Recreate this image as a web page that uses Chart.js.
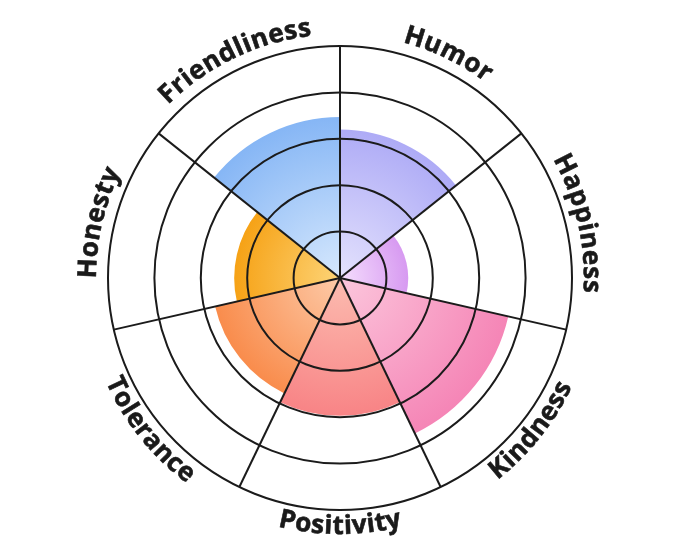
<!DOCTYPE html>
<html>
<head>
<meta charset="utf-8">
<script src="https://cdn.jsdelivr.net/npm/chart.js@4.4.0/dist/chart.umd.min.js"></script>
<style>
  body { margin: 0; background: #fff; }
  canvas { display: block; }
</style>
</head>
<body>
<canvas id="traits" width="680" height="557"></canvas>
<script>
// -------- DATA --------
const traits = ["Humor", "Happiness", "Kindness", "Positivity", "Tolerance", "Honesty", "Friendliness"];
const scores = [3.2, 1.47, 3.72, 2.97, 2.76, 2.28, 3.47];
const innerColors = ["#e4e2fd", "#f5defd", "#fcc6dc", "#fcbcb0", "#fdcaa8", "#fdd477", "#d6e8fd"];
const outerColors = ["#aeabf6", "#d79af1", "#f585b6", "#f88486", "#f98c4c", "#f6a216", "#86b6f5"];

// -------- GRADIENT FILL --------
function segmentFill(ctx) {
    const scale = ctx.chart.scales.r;
    const i = ctx.dataIndex;
    if (!scale || !ctx.chart.chartArea || ctx.raw == null) return outerColors[i];
    const r = Math.max(1, scale.getDistanceFromCenterForValue(ctx.raw));
    const g = ctx.chart.ctx.createRadialGradient(scale.xCenter, scale.yCenter, 0, scale.xCenter, scale.yCenter, r);
    g.addColorStop(0, innerColors[i]);
    g.addColorStop(1, outerColors[i]);
    return g;
}

// -------- CURVED LABELS --------
const arcLabels = {
    id: "arcLabels",
    afterDraw(chart) {
        const scale = chart.scales.r;
        const ctx = chart.ctx;
        const cx = scale.xCenter, cy = scale.yCenter;
        const n = traits.length;
        const spacing = 0.5;
        ctx.save();
        ctx.font = "bold 26px 'Open Sans'";
        ctx.fillStyle = "#1a1a1a";
        ctx.strokeStyle = "#1a1a1a";
        ctx.lineWidth = 0.6;
        ctx.textAlign = "center";
        ctx.textBaseline = "alphabetic";
        traits.forEach((text, i) => {
            const deg = (i + 0.5) * 360 / n;
            const mid = -Math.PI / 2 + deg * Math.PI / 180;
            const flip = deg > 90 && deg < 270;
            const r = flip ? scale.drawingArea + 24 : scale.drawingArea + 12;
            const chars = [...text];
            const widths = chars.map(c => ctx.measureText(c).width);
            const total = widths.reduce((a, b) => a + b, 0) + spacing * (chars.length - 1);
            let ang = flip ? mid + total / (2 * r) : mid - total / (2 * r);
            chars.forEach((c, k) => {
                const half = widths[k] / 2 / r;
                const a = flip ? ang - half : ang + half;
                ctx.save();
                ctx.translate(cx + r * Math.cos(a), cy + r * Math.sin(a));
                ctx.rotate(flip ? a - Math.PI / 2 : a + Math.PI / 2);
                ctx.fillText(c, 0, 0);
                ctx.strokeText(c, 0, 0);
                ctx.restore();
                const step = (widths[k] + spacing) / r;
                ang = flip ? ang - step : ang + step;
            });
        });
        ctx.restore();
    }
};

// -------- CHART --------
new Chart(document.getElementById("traits"), {
    type: "polarArea",
    data: {
        labels: traits,
        datasets: [{
            data: scores,
            backgroundColor: segmentFill,
            borderWidth: 0
        }]
    },
    options: {
        responsive: false,
        animation: false,
        layout: { padding: { top: 46, bottom: 47, left: 0, right: 0 } },
        plugins: {
            legend: { display: false },
            tooltip: { enabled: false }
        },
        scales: {
            r: {
                min: 0,
                max: 5,
                ticks: { display: false, stepSize: 1 },
                grid: { color: "#1b1b1b", lineWidth: 2, z: 1, circular: true },
                angleLines: { display: true, color: "#1b1b1b", lineWidth: 2 },
                pointLabels: { display: false }
            }
        }
    },
    plugins: [arcLabels]
});
</script>
</body>
</html>
